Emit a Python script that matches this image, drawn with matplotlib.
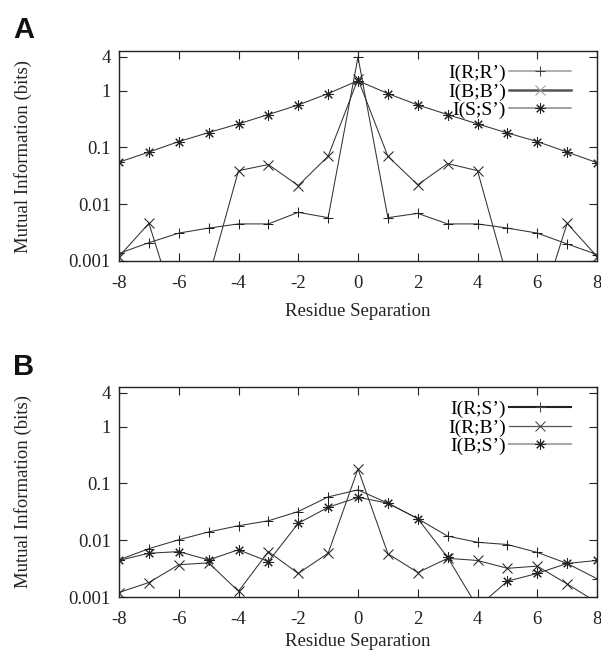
import matplotlib
matplotlib.use("Agg")
import matplotlib.pyplot as plt
from matplotlib.lines import Line2D
import numpy as np

sep = list(range(-8, 9))

# Panel A
I_RR = [0.00136, 0.0021, 0.0031, 0.0038, 0.0045, 0.0045, 0.0072, 0.0058, 3.9,
        0.0058, 0.0069, 0.0045, 0.0045, 0.0038, 0.0031, 0.0020, 0.0013]
I_BB = [0.0012, 0.0046, 0.0001, 0.0005, 0.039, 0.050, 0.0213, 0.070, 1.6,
        0.070, 0.022, 0.052, 0.039, 0.0005, 0.0001, 0.0046, 0.0012]
I_SS = [0.055, 0.083, 0.127, 0.183, 0.26, 0.38, 0.56, 0.89, 1.5,
        0.89, 0.56, 0.38, 0.26, 0.18, 0.127, 0.083, 0.054]

# Panel B
I_RS = [0.0045, 0.0071, 0.0102, 0.014, 0.018, 0.022, 0.032, 0.058, 0.077,
        0.045, 0.024, 0.0118, 0.0092, 0.0084, 0.0061, 0.0039, 0.0021]
I_RB = [0.0012, 0.0018, 0.0037, 0.0040, 0.00126, 0.0063, 0.0026, 0.0059, 0.18,
        0.0058, 0.0027, 0.0048, 0.0044, 0.0032, 0.0035, 0.0017, 0.0008]
I_BS = [0.0044, 0.0059, 0.0063, 0.0045, 0.0068, 0.0042, 0.0199, 0.038, 0.057,
        0.045, 0.024, 0.0050, 0.00066, 0.0019, 0.0026, 0.0039, 0.0044]

yticks = [0.001, 0.01, 0.1, 1, 4]
ytick_labels = ["0.001", "0.01", "0.1", "1", "4"]
xticks = [-8, -6, -4, -2, 0, 2, 4, 6, 8]

plt.rcParams['font.family'] = ['Liberation Serif', 'DejaVu Serif']

fig = plt.figure(figsize=(6.01, 6.52), dpi=100)
W, H = 601, 652

def make_ax(top_px, bot_px):
    left, right = 119, 597
    return fig.add_axes([left / W, 1 - bot_px / H, (right - left) / W, (bot_px - top_px) / H])

axA = make_ax(51, 261)
axB = make_ax(387, 597)

ast = (8, 2, 0)
FS = 13.5

def style_ax(ax, xpad):
    ax.set_yscale('log')
    ax.set_xlim(-8, 8)
    ax.set_ylim(0.001, 5.0)
    ax.set_yticks(yticks)
    ax.set_yticklabels(ytick_labels)
    ax.minorticks_off()
    ax.set_xticks(xticks)
    ax.set_xticklabels([str(t) for t in xticks])
    ax.tick_params(direction='in', length=6, width=0.8, top=True, right=True,
                   labelsize=FS, colors='#222222')
    ax.tick_params(axis='x', pad=10)
    ax.tick_params(axis='y', pad=6)
    for s in ax.spines.values():
        s.set_linewidth(1.0)
        s.set_color('#222222')
    ax.set_ylabel('Mutual Information (bits)', fontsize=FS, color='#222222', labelpad=26)
    ax.set_xlabel('Residue Separation', fontsize=FS, color='#222222', labelpad=xpad)

def series(ax, y, marker, color, lw):
    ax.plot(sep, y, color=color, lw=lw, marker=marker, markersize=7.5,
            markeredgewidth=0.75, markerfacecolor='none', markeredgecolor='#222222',
            clip_on=True)

leg_kw = dict(loc='upper right', bbox_to_anchor=(0.98, 1.015), frameon=False,
              markerfirst=False, handlelength=3.2, handletextpad=0.15,
              labelspacing=0.05, fontsize=14, borderaxespad=0.45)

# Panel A
series(axA, I_RR, '+', '#333333', 0.75)
series(axA, I_BB, 'x', '#333333', 0.75)
series(axA, I_SS, ast, '#333333', 0.75)
style_ax(axA, 8)
hA = [Line2D([], [], color='#999999', lw=1.1, marker='+', markersize=7.5, markeredgewidth=0.75, markeredgecolor='#444444'),
      Line2D([], [], color='#555555', lw=1.8, marker='x', markersize=7.5, markeredgewidth=0.75, markeredgecolor='#999999'),
      Line2D([], [], color='#888888', lw=1.1, marker=ast, markersize=7.5, markeredgewidth=0.75, markeredgecolor='#222222')]
axA.legend(hA, ["I(R;R\u2019)", "I(B;B\u2019)", "I(S;S\u2019)"], **leg_kw)

# Panel B
series(axB, I_RS, '+', '#333333', 0.75)
series(axB, I_RB, 'x', '#333333', 0.75)
series(axB, I_BS, ast, '#333333', 0.75)
style_ax(axB, 4)
hB = [Line2D([], [], color='#222222', lw=1.5, marker='+', markersize=7.5, markeredgewidth=0.75, markeredgecolor='#444444'),
      Line2D([], [], color='#555555', lw=0.9, marker='x', markersize=7.5, markeredgewidth=0.75, markeredgecolor='#444444'),
      Line2D([], [], color='#aaaaaa', lw=1.5, marker=ast, markersize=7.5, markeredgewidth=0.75, markeredgecolor='#222222')]
axB.legend(hB, ["I(R;S\u2019)", "I(R;B\u2019)", "I(B;S\u2019)"], **leg_kw)

fig.text(13 / W, 1 - 38 / H, 'A', fontsize=21, fontweight='bold',
         family=['Liberation Sans', 'DejaVu Sans'], color='#111111')
fig.text(13 / W, 1 - 375 / H, 'B', fontsize=21, fontweight='bold',
         family=['Liberation Sans', 'DejaVu Sans'], color='#111111')

fig.savefig('out.png', dpi=100)
